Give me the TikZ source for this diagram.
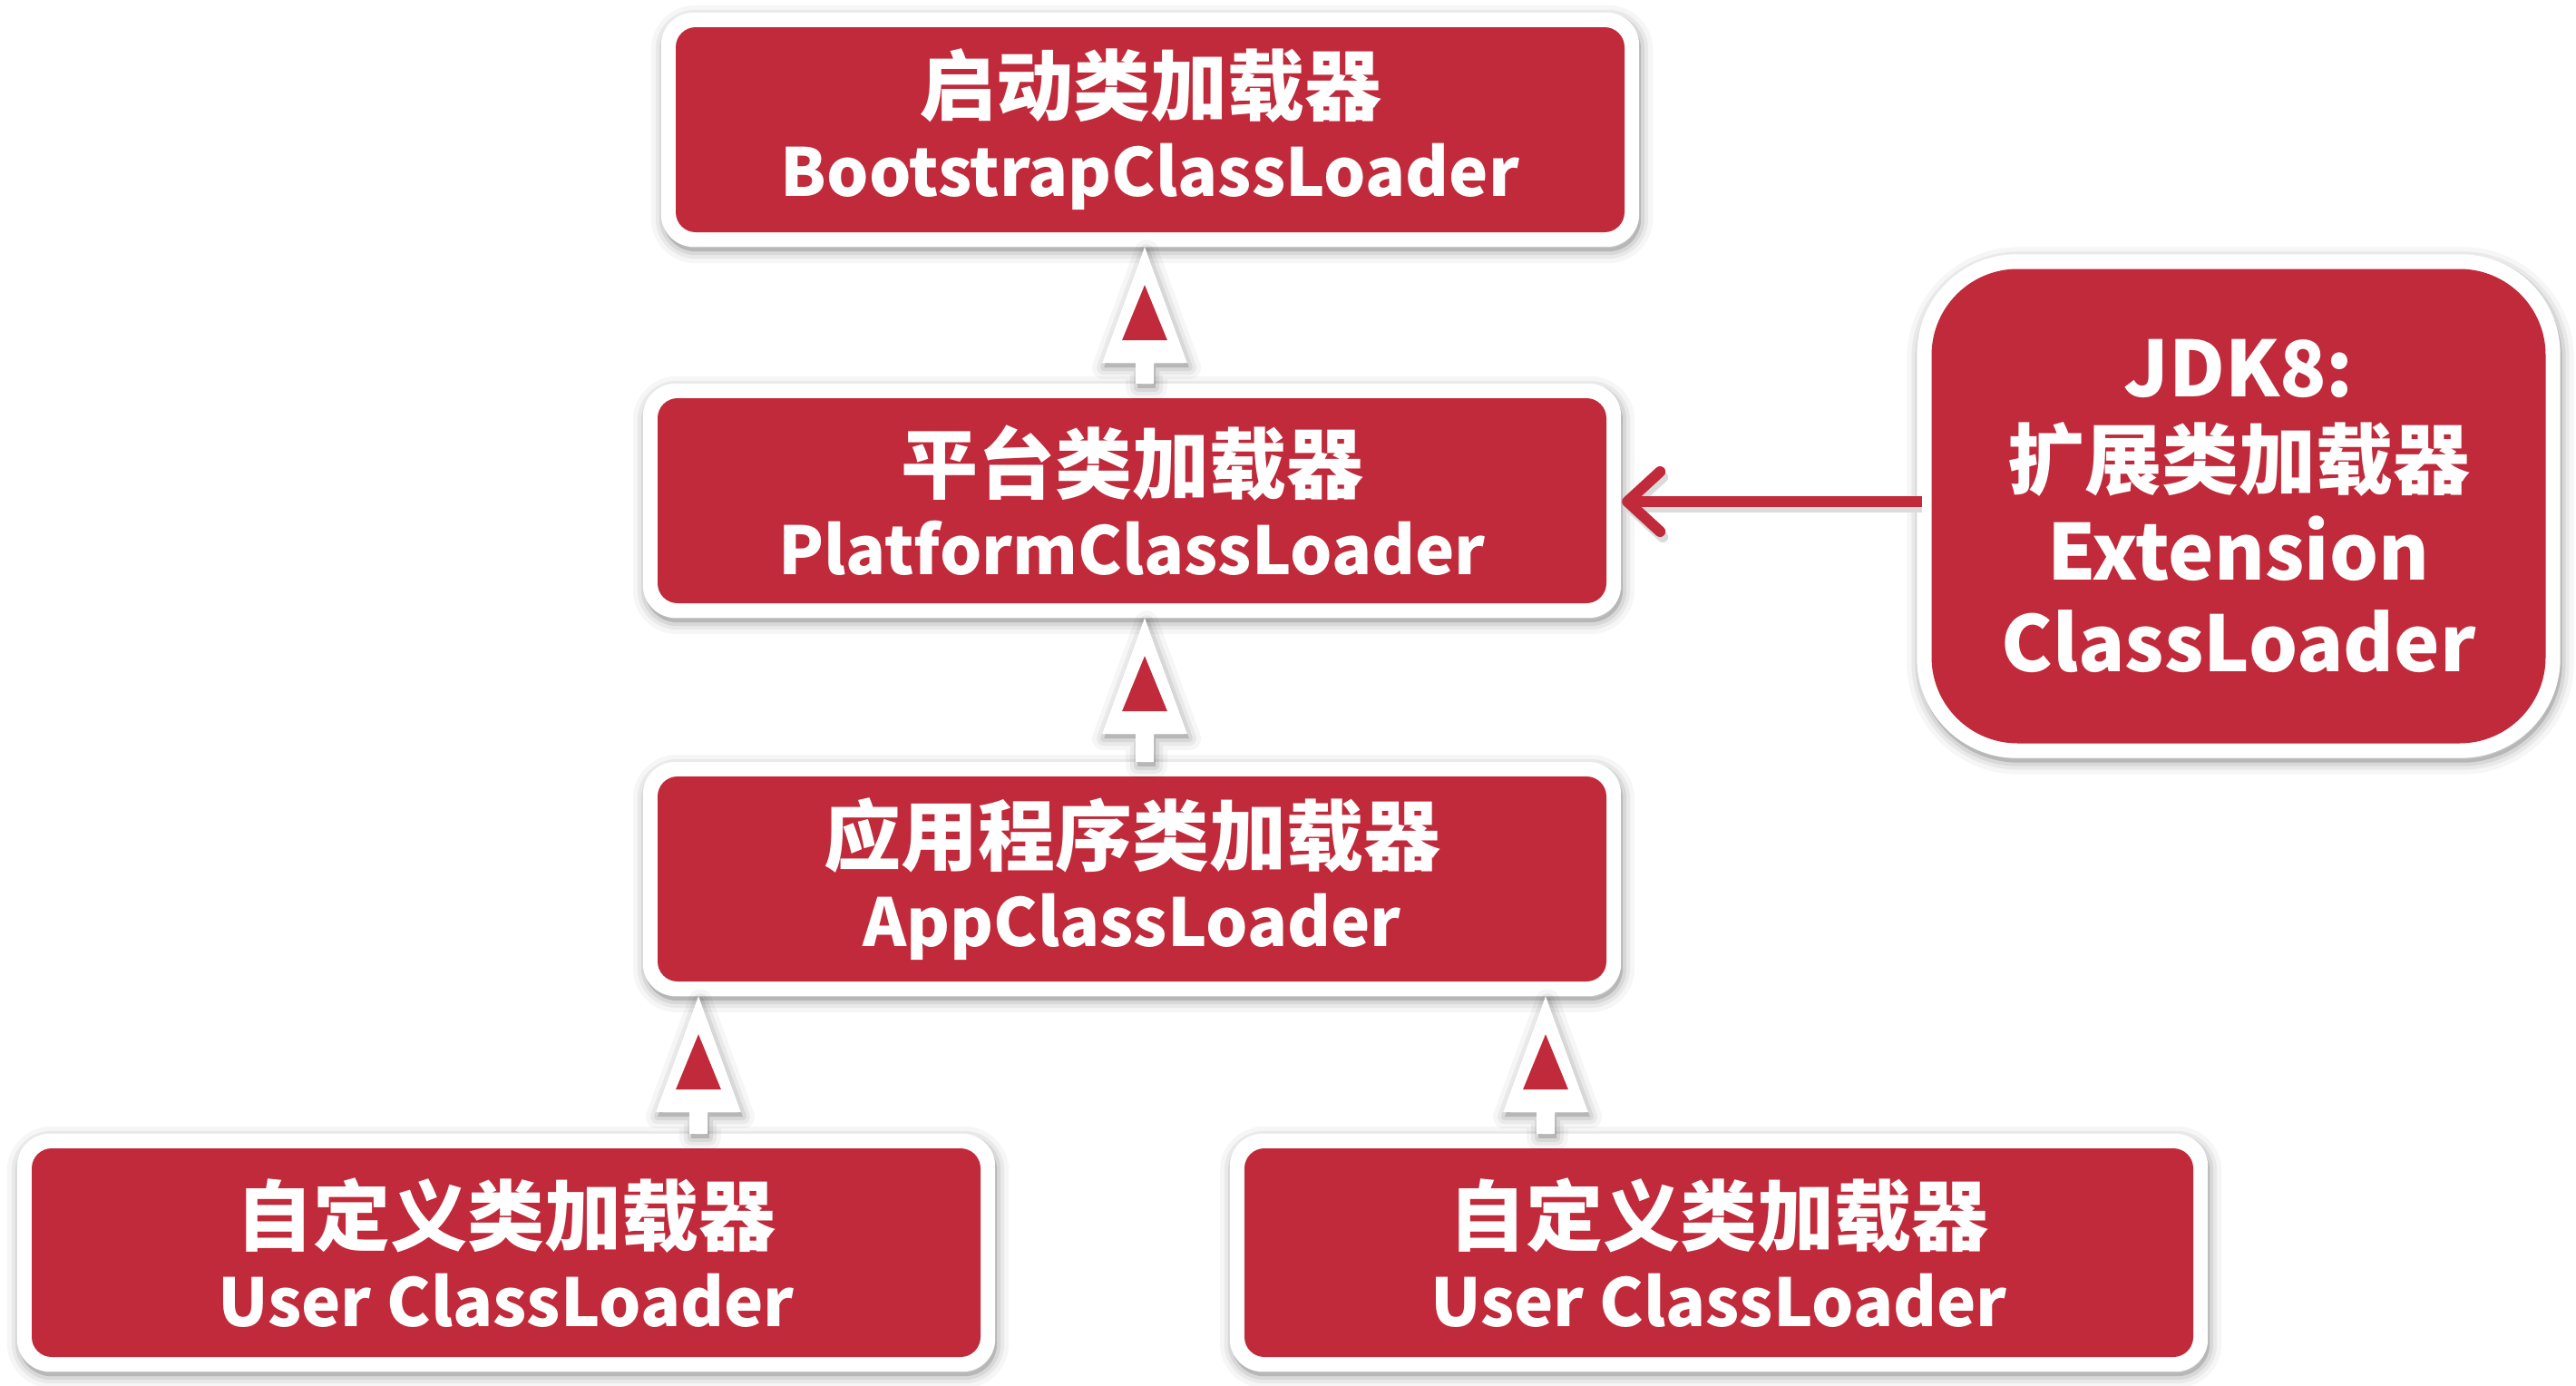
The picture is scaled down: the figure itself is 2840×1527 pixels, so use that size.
\documentclass[tikz,border=0pt]{standalone}
\usepackage{fontspec}
\setmainfont{Noto Sans CJK SC}
\usetikzlibrary{backgrounds,calc,arrows.meta}
\definecolor{boxred}{RGB}{193,42,58}
\newcommand\lat[1]{{\fontsize{73pt}{90pt}\selectfont #1}}
\tikzset{
  shadowring/.style 2 args={preaction={draw=black, draw opacity=#1, line width=#2, line join=round,
    transform canvas={shift={(2pt,-5pt)}}}},
  softshadow/.style={
    shadowring={0.035}{26pt}, shadowring={0.05}{16pt}, shadowring={0.07}{8pt},
    preaction={fill=black, fill opacity=0.15, transform canvas={shift={(2pt,-5pt)}}}},
  barb/.style={line width=12pt, -{Straight Barb[length=36pt,width=66pt,round]}},
}
\newcommand\hollowup[3]{% #1 = x, #2 = upper node, #3 = lower node
  \path (#1,0) coordinate (ax);
  \path ($(#2.south -| ax)+(0,-16pt)$) coordinate (tip)
        ($(#3.north -| ax)+(0,16pt)$) coordinate (tail);
  \fill[white, softshadow]
    (tip) -- ($(tip)+(47pt,-128pt)$) -- ($(tip)+(10pt,-128pt)$) -- ($(tail)+(10pt,0)$)
    -- ($(tail)+(-10pt,0)$) -- ($(tip)+(-10pt,-128pt)$) -- ($(tip)+(-47pt,-128pt)$) -- cycle;
  \fill[boxred] ($(tip)+(0,-42pt)$) -- ($(tip)+(25pt,-103pt)$) -- ($(tip)+(-25pt,-103pt)$) -- cycle;
}
\begin{document}
\begin{tikzpicture}[x=1pt,y=-1pt,
  loader/.style={fill=boxred, text=white, font=\bfseries\fontsize{85pt}{90pt}\selectfont,
    align=center, rounded corners=22pt, inner sep=0pt, minimum width=1046pt, minimum height=226pt},
  frame/.style={fill=white, softshadow},
]
\useasboundingbox (0,0) rectangle (2840,1527);

\node[loader] (boot) at (1268,143) {启动类加载器\\\lat{BootstrapClassLoader}};
\node[loader] (plat) at (1248,552) {平台类加载器\\\lat{PlatformClassLoader}};
\node[loader] (app) at (1248,969) {应用程序类加载器\\\lat{AppClassLoader}};
\node[loader, minimum height=230pt] (u1) at (558,1381) {自定义类加载器\\\lat{User ClassLoader}};
\node[loader, minimum height=230pt] (u2) at (1895,1381) {自定义类加载器\\\lat{User ClassLoader}};
\node[loader, minimum width=677pt, minimum height=523pt, rounded corners=95pt,
  font=\bfseries\fontsize{85pt}{101pt}\selectfont] (ext) at (2468,558)
  {JDK8:\\扩展类加载器\\Extension\\ClassLoader};

\begin{scope}[on background layer]
  \fill[white] (0,0) rectangle (2840,1527);
  \foreach \n in {boot,plat,app,u1,u2}
    \fill[frame, rounded corners=36pt] ($(\n.south west)+(-16pt,-16pt)$) rectangle ($(\n.north east)+(16pt,16pt)$);
  \fill[frame, rounded corners=110pt] ($(ext.south west)+(-16pt,-16pt)$) rectangle ($(ext.north east)+(16pt,16pt)$);
\end{scope}

\hollowup{1262}{boot}{plat}
\hollowup{1262}{plat}{app}
\hollowup{770}{app}{u1}
\hollowup{1704}{app}{u2}

\draw[black!14, barb]
  ($(ext.west)+(-10pt,-1pt)$) -- ($(plat.east |- ext.west)+(20pt,-1pt)$);
\draw[boxred, barb]
  ($(ext.west)+(-10pt,5pt)$) -- ($(plat.east |- ext.west)+(17pt,5pt)$);
\end{tikzpicture}
\end{document}
